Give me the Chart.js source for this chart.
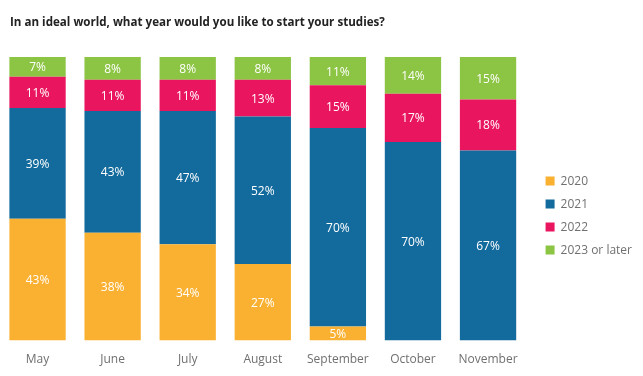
<!DOCTYPE html>
<html>
<head>
<meta charset="utf-8">
<script src="https://cdn.jsdelivr.net/npm/chart.js@4.4.0/dist/chart.umd.min.js"></script>
<style>
    html, body { margin: 0; padding: 0; background: #fff; }
    #wrap { width: 643px; height: 376px; position: relative; }
    #title {
        position: absolute; left: 10px; top: 14px;
        font: bold 11.6px 'Open Sans', sans-serif; line-height: 16px;
        color: #222; white-space: nowrap;
    }
</style>
</head>
<body>
<div id="wrap">
    <canvas id="studyStartChart"></canvas>
    <div id="title">In an ideal world, what year would you like to start your studies?</div>
</div>
<script>
const months = ['May', 'June', 'July', 'August', 'September', 'October', 'November'];
const year2020 = [43, 38, 34, 27, 5, 0, 0];
const year2021 = [39, 43, 47, 52, 70, 70, 67];
const year2022 = [11, 11, 11, 13, 15, 17, 18];
const year2023OrLater = [7, 8, 8, 8, 11, 14, 15];

const FONT = "'Open Sans', sans-serif";

// Helper plugin: percentage labels in the middle of each segment
const segmentLabels = {
    id: 'segmentLabels',
    afterDatasetsDraw(chart) {
        const ctx = chart.ctx;
        const top = chart.chartArea.top;
        ctx.save();
        ctx.font = '12px ' + FONT;
        ctx.fillStyle = '#ffffff';
        ctx.textAlign = 'center';
        ctx.textBaseline = 'middle';
        chart.data.datasets.forEach((ds, i) => {
            const meta = chart.getDatasetMeta(i);
            meta.data.forEach((bar, j) => {
                const v = ds.data[j];
                if (!v) return;
                const p = bar.getProps(['x', 'y', 'base'], true);
                const cy = (Math.max(p.y, top) + p.base) / 2;
                ctx.fillText(v + '%', p.x, cy + 1);
            });
        });
        ctx.restore();
    }
};

const ctx = document.getElementById('studyStartChart').getContext('2d');
new Chart(ctx, {
    type: 'bar',
    data: {
        labels: months,
        datasets: [
            { label: '2020', data: year2020, backgroundColor: '#FAB132' },
            { label: '2021', data: year2021, backgroundColor: '#136A9C' },
            { label: '2022', data: year2022, backgroundColor: '#E9165F' },
            { label: '2023 or later', data: year2023OrLater, backgroundColor: '#8CC443' }
        ]
    },
    options: {
        responsive: true,
        maintainAspectRatio: false,
        animation: false,
        datasets: {
            bar: { categoryPercentage: 1, barPercentage: 0.75, borderWidth: 0 }
        },
        layout: { padding: { left: 0, right: 1, top: 57, bottom: 5 } },
        scales: {
            x: {
                stacked: true,
                grid: { display: false },
                border: { display: false },
                ticks: { color: '#707070', font: { family: FONT, size: 12 }, padding: 4 }
            },
            y: {
                stacked: true,
                position: 'right',
                min: 0,
                max: 100,
                grid: { display: false },
                border: { display: false },
                ticks: { display: false },
                afterFit(scale) { scale.width = 9; }
            }
        },
        plugins: {
            legend: {
                position: 'right',
                align: 'center',
                title: { display: true, text: '', font: { size: 1 }, padding: { top: 0, bottom: 2 } },
                labels: {
                    boxWidth: 9,
                    boxHeight: 9,
                    padding: 11,
                    color: '#707070',
                    font: { family: FONT, size: 12 }
                }
            },
            tooltip: { enabled: false }
        }
    },
    plugins: [segmentLabels]
});
</script>
</body>
</html>
